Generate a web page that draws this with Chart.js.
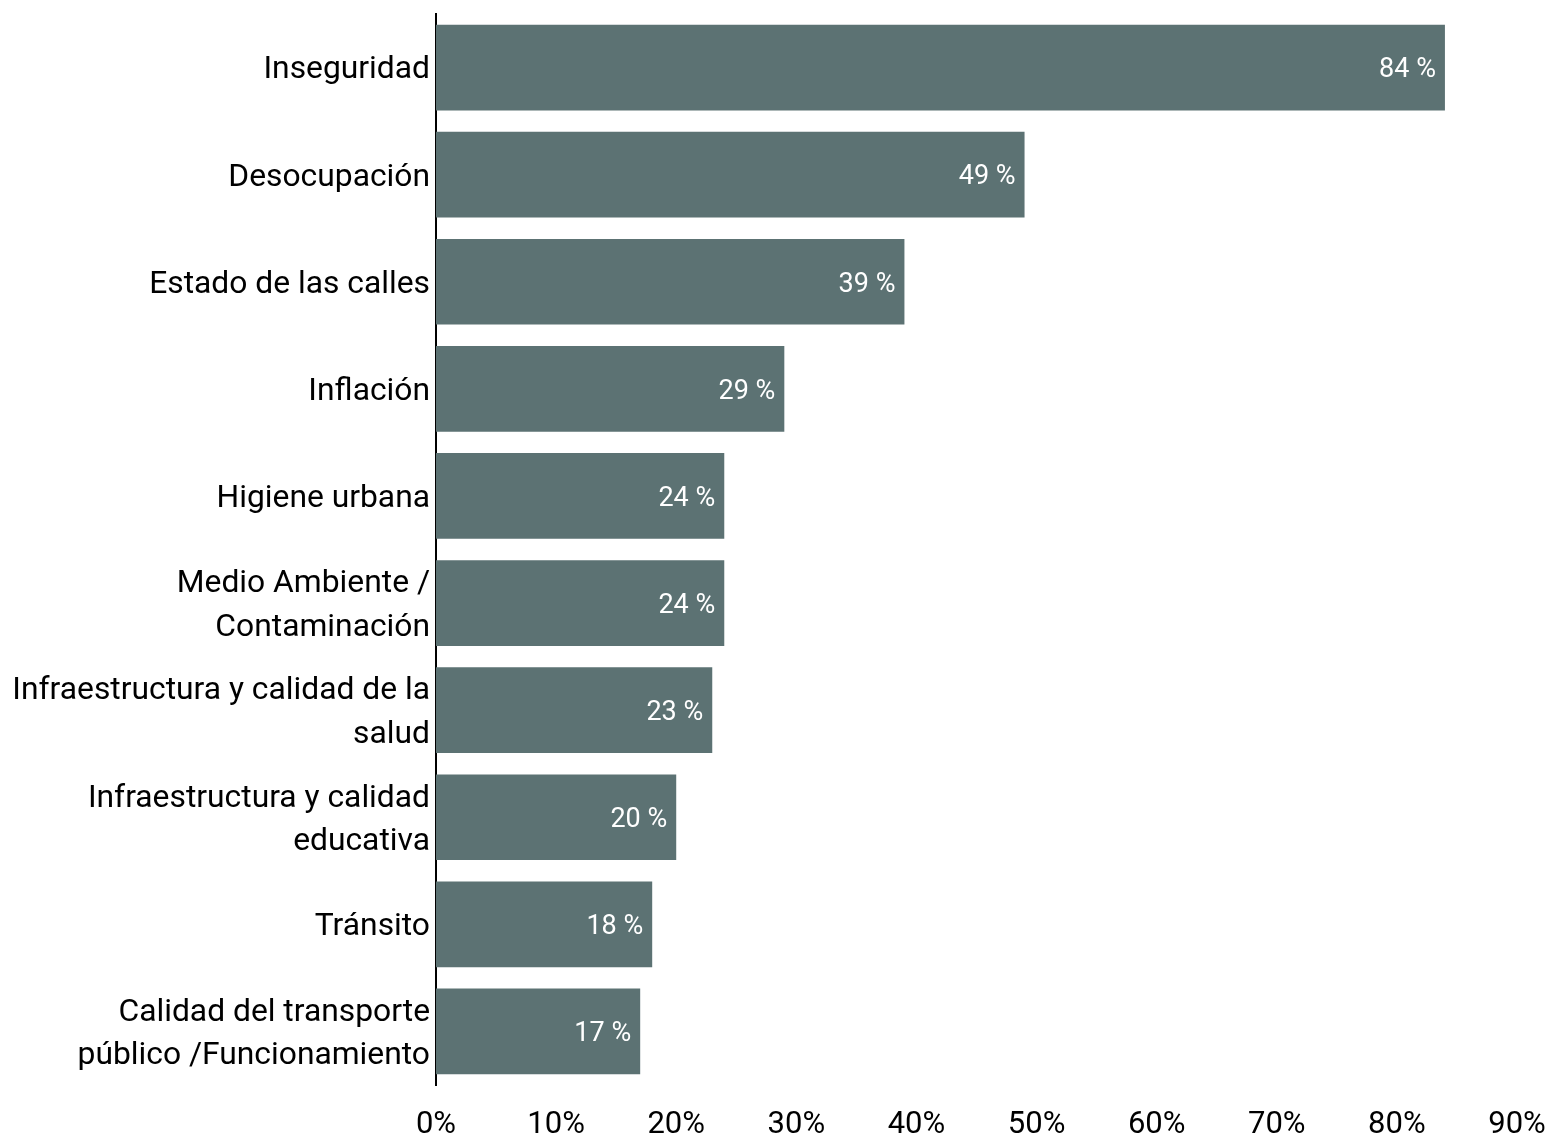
<!DOCTYPE html>
<html>
<head>
<meta charset="utf-8">
<script src="https://cdn.jsdelivr.net/npm/chart.js@4/dist/chart.umd.min.js"></script>
<style>
html,body{margin:0;padding:0;background:#fff;}
#wrap{width:1551px;height:1135px;position:relative;}
</style>
</head>
<body>
<div id="wrap"><canvas id="c" width="1551" height="1135"></canvas></div>
<script>
const categories = [
  "Inseguridad",
  "Desocupación",
  "Estado de las calles",
  "Inflación",
  "Higiene urbana",
  ["Medio Ambiente /", "Contaminación"],
  ["Infraestructura y calidad de la", "salud"],
  ["Infraestructura y calidad", "educativa"],
  "Tránsito",
  ["Calidad del transporte", "público /Funcionamiento"]
];
const values = [84, 49, 39, 29, 24, 24, 23, 20, 18, 17];
const xTicks = [0, 10, 20, 30, 40, 50, 60, 70, 80, 90];

const barColor = "#5c7273";

const valueLabels = {
  id: "valueLabels",
  afterDatasetsDraw(chart) {
    const ctx = chart.ctx;
    const meta = chart.getDatasetMeta(0);
    ctx.save();
    ctx.font = "27px Roboto";
    ctx.fillStyle = "#ffffff";
    ctx.textAlign = "right";
    ctx.textBaseline = "middle";
    meta.data.forEach((bar, i) => {
      ctx.fillText(values[i] + " %", bar.x - 9, bar.y + 3);
    });
    ctx.restore();
  }
};

new Chart(document.getElementById("c"), {
  type: "bar",
  data: {
    labels: categories,
    datasets: [{
      data: values,
      backgroundColor: barColor,
      borderWidth: 0,
      barPercentage: 0.8,
      categoryPercentage: 1.0
    }]
  },
  options: {
    indexAxis: "y",
    responsive: false,
    animation: false,
    layout: { padding: { top: 14, right: 34, bottom: 0, left: 0 } },
    plugins: {
      legend: { display: false },
      tooltip: { enabled: false }
    },
    scales: {
      x: {
        min: 0,
        max: 90,
        afterBuildTicks(scale) {
          scale.ticks = xTicks.map(v => ({ value: v }));
        },
        afterFit(scale) {
          scale.height = 50;
          scale.paddingLeft = 0;
          scale.paddingRight = 0;
        },
        grid: { display: false, drawTicks: false },
        border: { display: false },
        ticks: {
          padding: 22,
          color: "#000",
          font: { family: "Roboto", size: 31 },
          callback: v => v + "%"
        }
      },
      y: {
        afterFit(scale) {
          scale.width = 436;
          scale.paddingTop = 0;
          scale.paddingBottom = 0;
        },
        grid: { display: false, drawTicks: false },
        border: { display: true, color: "#000", width: 2 },
        ticks: {
          padding: 6,
          labelOffset: 3,
          color: "#000",
          font: { family: "Roboto", size: 31.8, lineHeight: 1.36 }
        }
      }
    }
  },
  plugins: [valueLabels]
});
</script>
</body>
</html>
